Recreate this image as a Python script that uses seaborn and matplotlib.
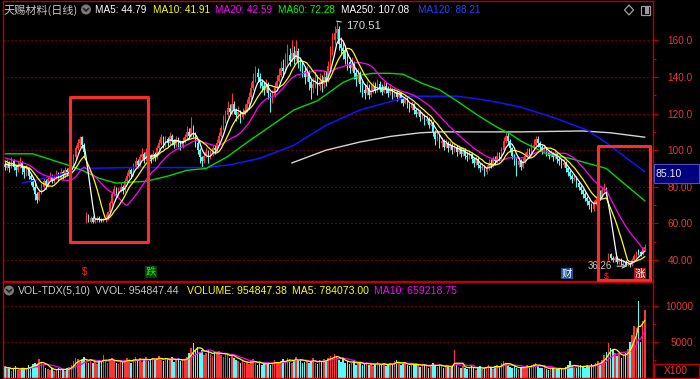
import numpy as np
import pandas as pd
import matplotlib
matplotlib.use("Agg")
import matplotlib.pyplot as plt
import seaborn as sns
from matplotlib.patches import Rectangle, Circle, Polygon
from matplotlib.lines import Line2D
from matplotlib.transforms import IdentityTransform

# ---------------- data ----------------
pre_closes = [99, 98, 100, 97, 96, 98, 99, 97, 95, 96, 98, 97, 95, 94, 96, 93, 92, 94, 91]

closes = [91, 93, 90, 94, 91, 89, 92, 93, 90, 88,
          90, 86, 84, 80, 76, 73, 77, 80, 83, 81,
          84, 86, 83, 85, 87, 85, 88, 86, 89, 87,
          90, 92, 96, 101, 104, 106, 103, 99, 64, 62,
          63, 61, 62, 63, 62, 61, 62, 63, 66, 71,
          76, 79, 76, 78, 80, 78, 83, 86, 89, 87,
          91, 94, 92, 96, 98, 95, 99, 97, 95, 98,
          96, 101, 104, 107, 103, 106, 104, 108, 105, 103,
          106, 104, 102, 105, 107, 110, 108, 112, 109, 104,
          100, 96, 94, 97, 99, 96, 98, 101, 100, 104,
          108, 112, 116, 119, 123, 121, 125, 122, 119, 121,
          118, 120, 122, 125, 129, 134, 138, 142, 140, 137,
          135, 133, 136, 131, 128, 130, 134, 138, 141, 145,
          143, 148, 152, 149, 153, 150, 154, 148, 146, 143,
          140, 142, 137, 134, 136, 139, 135, 138, 136, 140,
          138, 146, 154, 160, 164, 166, 158, 156, 154, 150,
          148, 145, 147, 142, 139, 141, 136, 133, 131, 134,
          130, 132, 135, 133, 136, 134, 132, 135, 133, 131,
          133, 130, 132, 129, 131, 128, 126, 128, 125, 123,
          125, 122, 120, 121, 118, 119, 116, 117, 114, 115,
          110, 106, 108, 104, 105, 102, 104, 101, 103, 100,
          102, 99, 101, 98, 100, 97, 96, 98, 95, 93,
          95, 92, 90, 91, 88, 90, 93, 92, 95, 94,
          97, 96, 100, 105, 108, 105, 101, 97, 95, 92,
          94, 91, 94, 97, 99, 98, 101, 103, 106, 104,
          102, 100, 101, 99, 97, 98, 96, 98, 95, 94,
          92, 93, 90, 88, 86, 84, 85, 82, 80, 78,
          76, 74, 72, 70, 68, 71, 73, 76, 75, 78,
          79, 77, 43, 41, 40, 41, 39, 40, 38, 39,
          37.5, 38, 37, 40, 42, 43.5, 44.5, 43, 46, 47]

opens = [92, 90, 93, 91, 94, 91, 89, 91, 93, 90,
         87, 90, 86, 84, 80, 76, 73, 77, 80, 83,
         81, 84, 86, 83, 85, 87, 85, 88, 86, 89,
         87, 90, 92, 96, 101, 104, 107, 103, 61, 64,
         61, 63, 61, 62, 63, 62, 61, 62, 63, 66,
         71, 76, 79, 76, 78, 80, 78, 83, 86, 89,
         87, 91, 94, 92, 96, 98, 95, 99, 97, 95,
         98, 96, 101, 104, 107, 103, 106, 104, 108, 105,
         103, 106, 104, 102, 105, 107, 110, 108, 112, 109,
         104, 100, 96, 94, 97, 99, 96, 98, 101, 100,
         104, 108, 112, 116, 119, 123, 121, 125, 122, 119,
         121, 118, 120, 122, 125, 129, 134, 138, 142, 140,
         137, 135, 133, 136, 131, 128, 130, 134, 138, 141,
         145, 143, 148, 152, 149, 153, 150, 154, 148, 146,
         143, 140, 142, 137, 134, 136, 139, 135, 138, 136,
         140, 138, 146, 154, 160, 164, 166, 158, 156, 154,
         150, 148, 145, 147, 142, 139, 141, 136, 133, 131,
         134, 130, 132, 135, 133, 136, 134, 132, 135, 133,
         131, 133, 130, 132, 129, 131, 128, 126, 128, 125,
         123, 125, 122, 120, 121, 118, 119, 116, 117, 114,
         115, 110, 106, 108, 104, 105, 102, 104, 101, 103,
         100, 102, 99, 101, 98, 100, 97, 96, 98, 95,
         93, 95, 92, 90, 91, 88, 90, 93, 92, 95,
         94, 97, 96, 100, 105, 108, 105, 101, 97, 95,
         92, 94, 91, 94, 97, 99, 98, 101, 103, 106,
         104, 102, 100, 101, 99, 97, 98, 96, 98, 95,
         94, 92, 93, 90, 88, 86, 84, 85, 82, 80,
         78, 76, 74, 72, 70, 68, 71, 73, 76, 75,
         78, 79, 41, 43, 41, 40, 41, 39, 40, 38,
         39, 37.5, 38, 37, 40, 42, 45, 44.5, 43, 46]

highs = [94, 95, 94, 96, 95, 92, 94, 96, 94, 91,
         92, 91, 87, 85, 82, 77, 79, 82, 85, 84,
         86, 88, 87, 87, 89, 88, 90, 89, 91, 90,
         92, 94, 98, 103, 106, 108, 108, 104, 66, 65,
         64, 64, 63, 64, 64, 63, 63, 65, 67, 72,
         77, 81, 80, 80, 82, 81, 85, 88, 91, 90,
         93, 96, 95, 98, 101, 99, 101, 100, 98, 100,
         99, 103, 106, 109, 108, 108, 107, 110, 109, 106,
         108, 107, 105, 107, 109, 113, 112, 118, 114, 110,
         105, 101, 97, 99, 101, 100, 100, 103, 103, 106,
         110, 114, 119, 122, 127, 125, 131, 127, 123, 124,
         122, 123, 125, 128, 132, 137, 142, 146, 145, 142,
         139, 137, 139, 137, 132, 133, 137, 141, 145, 149,
         150, 153, 158, 156, 160, 157, 160, 156, 151, 149,
         146, 146, 144, 139, 140, 143, 141, 142, 141, 144,
         143, 149, 157, 164, 168, 170.51, 168, 162, 159, 157,
         154, 151, 151, 149, 145, 145, 143, 138, 136, 138,
         136, 136, 138, 137, 139, 138, 136, 138, 137, 135,
         136, 134, 134, 133, 133, 132, 129, 130, 129, 126,
         127, 126, 123, 123, 122, 121, 120, 119, 118, 117,
         116, 111, 110, 109, 107, 106, 106, 105, 105, 104,
         104, 103, 103, 102, 102, 101, 99, 100, 99, 96,
         97, 96, 93, 93, 92, 92, 95, 95, 97, 97,
         99, 99, 102, 107, 110, 110, 106, 102, 98, 96,
         96, 95, 96, 99, 101, 101, 104, 106, 108, 108,
         105, 103, 103, 102, 100, 100, 99, 100, 99, 97,
         95, 95, 94, 91, 89, 87, 87, 86, 83, 81,
         79, 77, 75, 73, 71, 73, 75, 78, 78, 80,
         82, 80, 44, 44, 42, 42, 42, 41, 41, 40,
         40, 39, 38.5, 41, 43, 45, 46, 45, 47, 48.5]

lows = [89, 89, 88, 90, 89, 86, 88, 90, 87, 85,
        86, 84, 81, 78, 73, 71, 72, 76, 79, 79,
        80, 83, 82, 82, 84, 83, 84, 84, 85, 86,
        86, 89, 91, 95, 100, 102, 101, 97, 60, 61,
        60, 60, 60, 61, 61, 60.7, 60.7, 61, 62, 65,
        70, 75, 74, 75, 77, 76, 77, 82, 85, 85,
        86, 90, 90, 91, 95, 93, 94, 95, 93, 94,
        94, 95, 100, 103, 101, 102, 102, 103, 103, 101,
        102, 102, 100, 101, 104, 106, 106, 107, 107, 102,
        98, 93, 91, 93, 96, 93, 95, 97, 98, 99,
        103, 107, 111, 115, 118, 119, 120, 120, 116, 117,
        115, 117, 119, 121, 124, 128, 133, 137, 137, 134,
        132, 130, 132, 128, 121, 126, 129, 133, 137, 140,
        140, 142, 147, 146, 148, 147, 149, 145, 143, 140,
        136, 138, 133, 128, 131, 134, 130, 133, 132, 134,
        135, 137, 145, 152, 158, 161, 155, 152, 150, 147,
        144, 142, 143, 139, 135, 137, 132, 129, 128, 130,
        128, 129, 131, 131, 132, 132, 130, 131, 131, 129,
        130, 128, 129, 127, 128, 126, 124, 125, 123, 121,
        122, 120, 118, 119, 116, 117, 114, 115, 112, 113,
        108, 103, 105, 101, 102, 100, 101, 99, 100, 98,
        99, 97, 98, 96, 97, 95, 94, 95, 93, 91,
        92, 90, 88, 89, 86, 87, 89, 90, 91, 92,
        93, 94, 95, 99, 104, 103, 99, 95, 92, 86,
        91, 89, 90, 93, 96, 96, 97, 100, 102, 102,
        100, 98, 99, 97, 95, 96, 94, 95, 93, 92,
        90, 91, 88, 86, 84, 82, 83, 80, 78, 76,
        74, 72, 70, 68, 66, 67, 70, 72, 73, 74,
        77, 75, 40, 40, 39, 39, 38, 38, 37, 37,
        36.8, 36.8, 36.26, 36.8, 39, 41, 42.5, 42, 42.5, 45]

volumes = [1500, 1200, 1400, 900, 1300, 1600, 1100, 1000, 1400, 1200,
           1300, 1700, 1500, 1900, 2100, 1800, 2600, 2200, 1700, 1400,
           1200, 1000, 1300, 900, 1100, 1400, 1000, 1200, 900, 1300,
           1500, 1800, 2300, 2800, 2600, 2200, 2500, 2900, 2400, 2100,
           2600, 2000, 2300, 1900, 2500, 2200, 3100, 2400, 2000, 2600,
           2800, 2300, 2100, 1900, 2400, 2200, 2500, 2700, 2300, 2000,
           2600, 2900, 2400, 2700, 2200, 2500, 2900, 2300, 2600, 2800,
           2400, 2700, 3000, 2500, 2300, 2800, 2600, 2400, 2900, 2200,
           2500, 2700, 2300, 2600, 2400, 2900, 3500, 4200, 4800, 3900,
           4300, 3600, 3800, 3200, 3500, 3900, 3300, 3000, 3600, 3400,
           3700, 3200, 2900, 3500, 3100, 2800, 3300, 2700, 2500, 2300,
           2100, 2400, 2000, 2200, 1900, 2300, 2600, 2100, 1800, 2000,
           1700, 2200, 1900, 2100, 1800, 2000, 2400, 2200, 1900, 2300,
           2600, 2200, 2800, 2400, 2100, 2500, 2900, 2300, 2600, 2000,
           2200, 2500, 2000, 2300, 2700, 2100, 1900, 2400, 2200, 2600,
           2400, 2800, 3000, 2700, 3300, 2900, 2500, 2200, 2600, 2000,
           2300, 1900, 2100, 2400, 1800, 2000, 2200, 1700, 1900, 2100,
           1800, 2000, 1600, 1900, 2200, 1700, 1800, 2000, 1600, 1900,
           2100, 1800, 2300, 2500, 2000, 1700, 1900, 2200, 1800, 1600,
           1900, 1700, 2000, 1800, 1500, 1700, 1900, 1600, 1400, 1800,
           2000, 1700, 1500, 1800, 1600, 1400, 1700, 1500, 1300, 1600,
           3800, 1800, 1500, 1300, 1600, 1400, 1200, 1500, 1700, 1300,
           1100, 1400, 1600, 1200, 1300, 1500, 1700, 1400, 1200, 1600,
           1800, 1500, 2000, 2300, 2100, 1800, 1500, 1300, 1600, 1400,
           1200, 1500, 1300, 1600, 1800, 1400, 1700, 1900, 2100, 1600,
           1400, 1300, 1500, 1200, 1100, 1400, 1300, 1000, 1200, 1400,
           1300, 1100, 1500, 1700, 2300, 1600, 1400, 1300, 1500, 1800,
           1600, 1400, 1700, 1500, 1900, 1700, 2000, 2300, 2000, 2500,
           3200, 3600, 4800, 4200, 3800, 3400, 3000, 3300, 2800, 3200,
           3500, 4000, 5000, 6000, 7200, 7000, 10700, 5000, 8000, 9548]

ma60_idx = [0, 13, 29, 36, 44, 52, 66, 76, 85, 94, 104, 114, 119, 135, 146, 158,
            166, 172, 180, 186, 195, 203, 211, 221, 230, 236, 241, 253, 264, 281, 287, 299]
ma60_val = [98, 98, 92, 89, 84.6, 82, 83, 85.8, 89, 90, 96.5, 105, 109, 122, 127, 137,
            141, 142, 142, 141.5, 136.5, 133, 127, 119, 112.5, 109, 105, 98, 95.5, 90, 84, 72.28]
ma120_idx = [8, 29, 36, 58, 94, 105, 119, 135, 150, 166, 180, 189, 211, 221, 231, 241, 256, 272, 281, 299]
ma120_val = [82, 87.5, 90, 90.5, 90.5, 92, 95.5, 102.7, 113.6, 122, 126.5, 129.5, 129.5, 128, 126,
             123.5, 118, 111, 104, 88.21]
ma250_idx = [134, 150, 166, 180, 194, 203, 241, 270, 283, 299]
ma250_val = [93, 100, 104.5, 107.5, 109.5, 110, 110, 110.5, 109.5, 107.08]

price_ticks = [40, 60, 80, 100, 120, 140, 160]
price_tick_labels = ["40.00", "60.00", "80.00", "100.0", "120.0", "140.0", "160.0"]
price_minor = [50, 70, 90, 110, 130, 150]
vol_ticks = [5000, 10000]
vol_tick_labels = ["5000", "10000"]
vol_minor = [2500, 7500]

title_text = "天赐材料(日线)"
header_labels = ["MA5: 44.79", "MA10: 41.91", "MA20: 42.59", "MA60: 72.28", "MA250: 107.08", "MA120: 88.21"]
vol_header_labels = ["VOL-TDX(5,10)", "VVOL: 954847.44", "VOLUME: 954847.38", "MA5: 784073.00", "MA10: 659218.75"]
high_label = "170.51"
low_label = "36.26"
cursor_label = "85.10"
unit_label = "X100"

# ---------------- styles ----------------
RED = "#FF3434"
CYAN = "#54FCFC"
WHITE = "#FFFFFF"
YELLOW = "#FFFF00"
MAGENTA = "#FF00FF"
GREEN = "#00D800"
BLUE = "#1414FF"
GREY250 = "#D4D4D4"
BORDER = "#C00000"
GRID = "#B00000"
LABEL = "#E83838"
TXT = "#C8C8C8"

sns.set_theme(style="dark", rc={"axes.facecolor": "black", "figure.facecolor": "black",
                                "savefig.facecolor": "black"})
plt.rcParams['font.family'] = ['Liberation Sans', 'Noto Sans CJK SC', 'DejaVu Sans']
CJK = ['Noto Sans CJK SC', 'DejaVu Sans']

W, H = 700, 379
fig = plt.figure(figsize=(W / 100, H / 100), dpi=100)
fig.patch.set_facecolor("black")


def fx(px):
    return px / W


def fy(py):
    return 1 - py / H


ax = fig.add_axes([fx(3), fy(281), (653 - 3) / W, (281 - 0.5) / H])
axv = fig.add_axes([fx(3), fy(377.5), (653 - 3) / W, (377.5 - 282) / H])

df = pd.DataFrame({"i": np.arange(len(closes)), "open": opens, "close": closes,
                   "high": highs, "low": lows, "vol": volumes})
up = df["close"] >= df["open"]
colors = np.where(up, RED, CYAN)

# grid
for t in price_ticks:
    ax.axhline(t, color=GRID, lw=0.8, ls=(0, (1, 2.6)), zorder=0.5)
for t in vol_ticks:
    axv.axhline(t, color=GRID, lw=0.8, ls=(0, (1, 2.6)), zorder=0.5)

# candles
ax.vlines(df["i"], df["low"], df["high"], colors=colors, lw=0.75, zorder=2)
body = (df["close"] - df["open"]).abs().clip(lower=0.3)
ax.bar(df["i"], body, bottom=df[["open", "close"]].min(axis=1), width=0.72,
       color=colors, linewidth=0, zorder=2)

# long moving averages
sns.lineplot(x=ma250_idx, y=ma250_val, ax=ax, color=GREY250, lw=1.0, zorder=3)
sns.lineplot(x=ma120_idx, y=ma120_val, ax=ax, color=BLUE, lw=1.1, zorder=3)
sns.lineplot(x=ma60_idx, y=ma60_val, ax=ax, color=GREEN, lw=1.0, zorder=3)

full = pd.Series(pre_closes + closes, dtype=float)
n_pre = len(pre_closes)
for n, c in [(20, MAGENTA), (10, YELLOW), (5, WHITE)]:
    ma = full.rolling(n).mean().iloc[n_pre:].to_numpy()
    sns.lineplot(x=df["i"].to_numpy(), y=ma, ax=ax, color=c, lw=0.9, zorder=4)

# volume
axv.bar(df["i"], df["vol"], width=0.72, color=colors, linewidth=0, zorder=2)
vs = df["vol"].astype(float)
sns.lineplot(x=df["i"].to_numpy(), y=vs.rolling(10, min_periods=1).mean().to_numpy(),
             ax=axv, color=MAGENTA, lw=0.9, zorder=3)
sns.lineplot(x=df["i"].to_numpy(), y=vs.rolling(5, min_periods=1).mean().to_numpy(),
             ax=axv, color=YELLOW, lw=0.9, zorder=4)

# axes styling
for a in (ax, axv):
    a.set_facecolor("black")
    a.set_xlim(-0.93, 302.8)
    a.set_xticks([])
    a.set_xlabel("")
    a.set_ylabel("")
    a.grid(False)
    for s in a.spines.values():
        s.set_color(BORDER)
        s.set_linewidth(1.0)
        s.set_visible(True)
    a.yaxis.tick_right()
    a.tick_params(axis="y", which="major", colors=BORDER, labelcolor=LABEL, length=3.6,
                  width=0.8, pad=25.2, labelsize=7.2, right=True, left=False)
    a.tick_params(axis="y", which="minor", colors=BORDER, length=2.2, width=0.8,
                  right=True, left=False)

ax.set_ylim(28.5, 181.8)
ax.set_yticks(price_ticks)
ax.set_yticklabels(price_tick_labels, ha="right")
ax.set_yticks(price_minor, minor=True)

axv.set_ylim(0, 13413)
axv.set_yticks(vol_ticks)
axv.set_yticklabels(vol_tick_labels, ha="right")
axv.set_yticks(vol_minor, minor=True)

# red highlight boxes
ax.add_patch(Rectangle((30.4, 49.8), 36.4, 79.1, fill=False, edgecolor="#FF2A2A",
                       lw=2.2, joinstyle="round", zorder=6))
ax.add_patch(Rectangle((277.0, 29.3), 24.3, 72.9, fill=False, edgecolor="#FF2A2A",
                       lw=2.2, joinstyle="round", zorder=6, clip_on=False))

# annotations
ax.annotate(high_label, xy=(155, 170.51), xytext=(159.3, 168.0), color="#D8D8D8",
            fontsize=8.2, ha="left", va="center", zorder=7,
            arrowprops=dict(arrowstyle="-", color="#D8D8D8", lw=0.8, shrinkA=1, shrinkB=0))
ax.annotate(low_label, xy=(292, 36.6), xytext=(272.4, 36.6), color="#C8C8C8",
            fontsize=7.0, ha="left", va="center", zorder=7,
            arrowprops=dict(arrowstyle="->", color="#C8C8C8", lw=0.8, shrinkA=1, shrinkB=2))

# event markers at bottom
ax.text(37.4, 33.6, "\\$", color="#FF2020", fontsize=7, ha="center", va="center", zorder=7)
ax.text(280.8, 31.0, "\\$", color="#FF2020", fontsize=6.3, ha="center", va="center", zorder=7)
ax.text(68.2, 33.6, "跌", color="#00FF00", fontsize=7.5, family=CJK, ha="center", va="center",
        zorder=7, bbox=dict(facecolor="#0A3A0A", edgecolor="none", pad=0.6))
ax.text(262.6, 32.6, "财", color="#FFFFFF", fontsize=7.5, family=CJK, ha="center", va="center",
        zorder=7, bbox=dict(facecolor="#1C4E9C", edgecolor="none", pad=0.6))
ax.text(296.7, 32.6, "涨", color="#FFFFFF", fontsize=7.5, family=CJK, ha="center", va="center",
        zorder=7, bbox=dict(facecolor="#A01818", edgecolor="none", pad=0.6))

# header (main)
fig.text(fx(4), fy(10), title_text, color=TXT, fontsize=8, family=CJK, ha="left", va="center")
header_x = [95, 153, 215, 278, 341, 418]
header_c = [WHITE, YELLOW, MAGENTA, "#00FF00", WHITE, "#1E46FF"]
for s, px, c in zip(header_labels, header_x, header_c):
    fig.text(fx(px), fy(10), s, color=c, fontsize=7.2, ha="left", va="center")

# header (volume)
vol_x = [18, 95, 187, 292, 374]
vol_c = [TXT, TXT, YELLOW, YELLOW, MAGENTA]
for s, px, c in zip(vol_header_labels, vol_x, vol_c):
    fig.text(fx(px), fy(290.5), s, color=c, fontsize=7.6, ha="left", va="center")

# icons (pixel coordinates, origin bottom-left)
ident = IdentityTransform()
for cx, cy in [(86, H - 9.5), (9, H - 290.5)]:
    fig.add_artist(Circle((cx, cy), 5, transform=ident, facecolor="#7A7A7A", edgecolor="none"))
    fig.add_artist(Line2D([cx - 2.5, cx, cx + 2.5], [cy + 1, cy - 1.5, cy + 1], transform=ident,
                          color="#202020", lw=1.2))
fig.add_artist(Polygon([(629, H - 5), (633.5, H - 10), (629, H - 15), (624.5, H - 10)],
                       closed=True, transform=ident, fill=False, edgecolor="#A0A0A0", lw=0.9))
fig.add_artist(Rectangle((640.5, H - 15), 9, 9, transform=ident, fill=False,
                         edgecolor="#9A9A9A", lw=0.9))
fig.add_artist(Rectangle((644.5, H - 14), 4, 7, transform=ident, facecolor="#9A9A9A",
                         edgecolor="none"))

# cursor price box and unit box
fig.add_artist(Rectangle((653.5, H - 183), 45, 19, transform=ident, facecolor="#00007E",
                         edgecolor="#5050B0", lw=0.8))
fig.text(fx(656), fy(173.5), cursor_label, color="#E8E8E8", fontsize=7.6, ha="left", va="center")
fig.add_artist(Rectangle((654, H - 378), 44.5, 14, transform=ident, facecolor="black",
                         edgecolor=BORDER, lw=1.0))
fig.text(fx(676), fy(371), unit_label, color=LABEL, fontsize=7.4, ha="center", va="center")

fig.savefig("out.png", dpi=100, facecolor="black")
